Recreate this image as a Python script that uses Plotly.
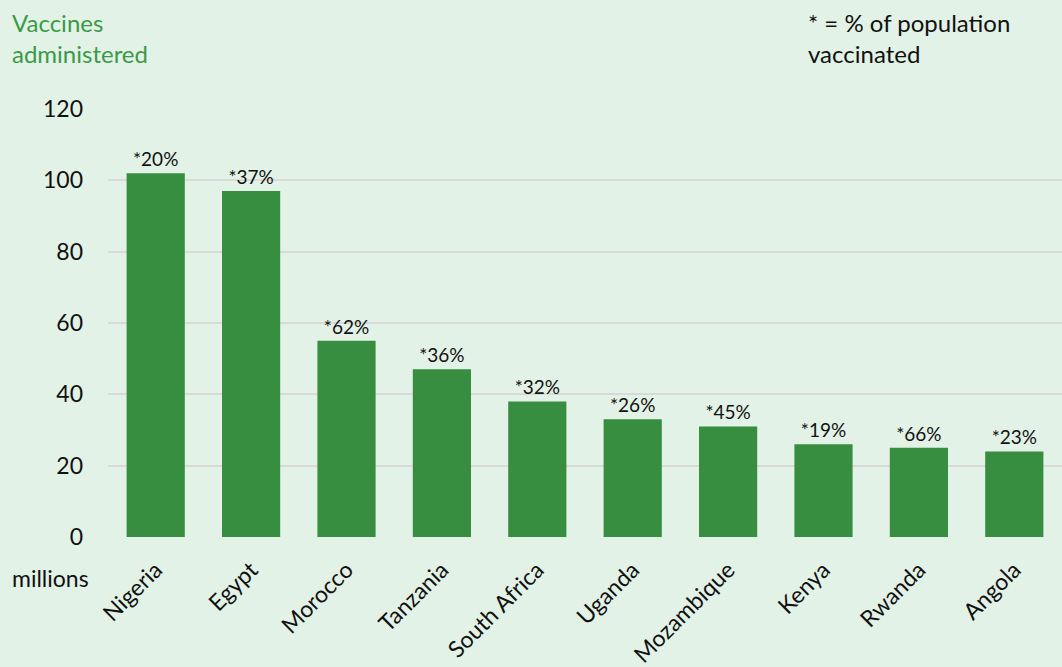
import plotly.graph_objects as go

countries = ["Nigeria", "Egypt", "Morocco", "Tanzania", "South Africa", "Uganda",
             "Mozambique", "Kenya", "Rwanda", "Angola"]
vaccines_millions = [102, 97, 55, 47, 38, 33, 31, 26, 25, 24]
pct_vaccinated = ["*20%", "*37%", "*62%", "*36%", "*32%", "*26%", "*45%", "*19%", "*66%", "*23%"]
y_ticks = [0, 20, 40, 60, 80, 100, 120]

BG = "#e3f2e6"
BAR = "#378e41"
FONT = "Lato, Open Sans, sans-serif"

W, H = 1062, 667
L, R, T, B = 108, 0, 109, 130
pw, ph = W - L - R, H - T - B

def px_x(x):
    return (x - L) / pw

def px_y(y):
    return (H - B - y) / ph

fig = go.Figure(go.Bar(
    x=countries, y=vaccines_millions, text=pct_vaccinated,
    textposition="outside", cliponaxis=False,
    textfont=dict(size=19, color="#111111", family=FONT),
    marker=dict(color=BAR, line=dict(width=0)),
))

fig.update_layout(
    width=W, height=H,
    paper_bgcolor=BG, plot_bgcolor=BG,
    margin=dict(l=L, r=R, t=T, b=B),
    bargap=0.39,
    showlegend=False,
    font=dict(family=FONT, size=23, color="#111111"),
    xaxis=dict(tickangle=-45, showgrid=False, showline=False, ticks="",
               tickfont=dict(size=23), ticklabelstandoff=14),
    yaxis=dict(range=[0, 120], tickvals=y_ticks, showgrid=True, gridcolor="#d9d9d9",
               gridwidth=2, zeroline=False, showline=False, ticks="",
               tickfont=dict(size=23), ticklabelstandoff=24),
    annotations=[
        dict(text="Vaccines<br>administered", x=px_x(10), y=px_y(6), xref="paper", yref="paper",
             showarrow=False, align="left", xanchor="left", yanchor="top",
             font=dict(size=24, color="#3a9a47")),
        dict(text="* = % of population<br>vaccinated", x=px_x(806), y=px_y(6),
             xref="paper", yref="paper", align="left",
             showarrow=False, xanchor="left", yanchor="top",
             font=dict(size=24, color="#111111")),
        dict(text="millions", x=px_x(10), y=px_y(578), xref="paper", yref="paper",
             showarrow=False, xanchor="left", yanchor="middle",
             font=dict(size=23, color="#111111")),
    ],
)

fig.write_html("out.html", config={"displayModeBar": False},
               post_script="document.body.style.margin='0';document.body.style.background='" + BG + "';")
